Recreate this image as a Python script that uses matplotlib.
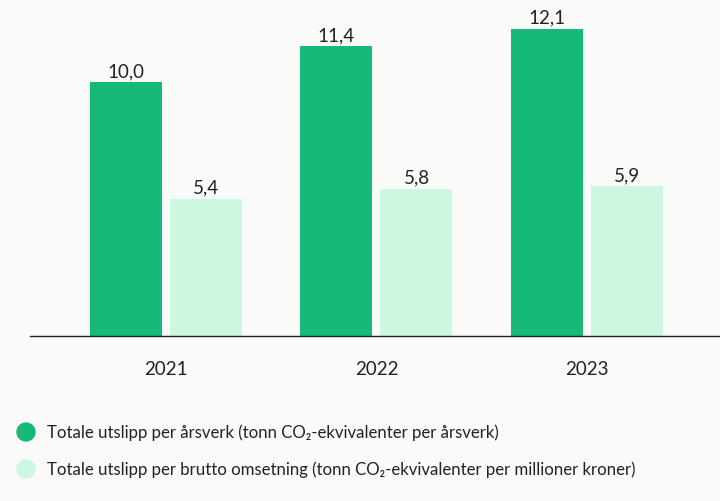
import matplotlib.pyplot as plt
import numpy as np
from matplotlib.patches import Ellipse

years = ['2021', '2022', '2023']
per_aarsverk = [10.0, 11.4, 12.1]
per_omsetning = [5.4, 5.8, 5.9]
legend_labels = ['Totale utslipp per årsverk (tonn CO₂-ekvivalenter per årsverk)',
                 'Totale utslipp per brutto omsetning (tonn CO₂-ekvivalenter per millioner kroner)']

dark = '#16b978'
light = '#ccf7e0'
bg = '#fafaf9'
txt = '#222222'
fam = ['Lato', 'DejaVu Sans']

plt.rcParams['font.family'] = fam

fig = plt.figure(figsize=(7.2, 5.02), dpi=100, facecolor=bg)
ax = fig.add_axes([30/720, 165/502, 690/720, 337/502])
ax.set_facecolor(bg)

x = np.arange(len(years))
w = 0.342
off = 0.19
b1 = ax.bar(x - off, per_aarsverk, w, color=dark)
b2 = ax.bar(x + off, per_omsetning, w, color=light)

for bars, vals in [(b1, per_aarsverk), (b2, per_omsetning)]:
    for r, v in zip(bars, vals):
        ax.text(r.get_x() + r.get_width()/2, v + 0.12, f'{v:.1f}'.replace('.', ','),
                ha='center', va='bottom', fontsize=13.5, color=txt)

ax.set_xlim(-0.646, 2.632)
ax.set_ylim(0, 13.27)
for s in ['top', 'right', 'left']:
    ax.spines[s].set_visible(False)
ax.spines['bottom'].set_color('#222222')
ax.spines['bottom'].set_linewidth(1)
ax.set_yticks([])
ax.set_xticks(x)
ax.set_xticklabels(years, fontsize=13.5, color=txt)
ax.tick_params(axis='x', length=0, pad=17)

# legend
for i, (lab, c) in enumerate(zip(legend_labels, [dark, light])):
    yy = 1 - 433/502 - i*37/502
    fig.patches.append(Ellipse((26/720, yy), 18/720, 18/502, transform=fig.transFigure,
                               color=c, figure=fig))
    fig.text(47/720, yy, lab, fontsize=12.1, color=txt, va='center', ha='left', family=fam)

fig.savefig('out.png', dpi=100, facecolor=bg)
